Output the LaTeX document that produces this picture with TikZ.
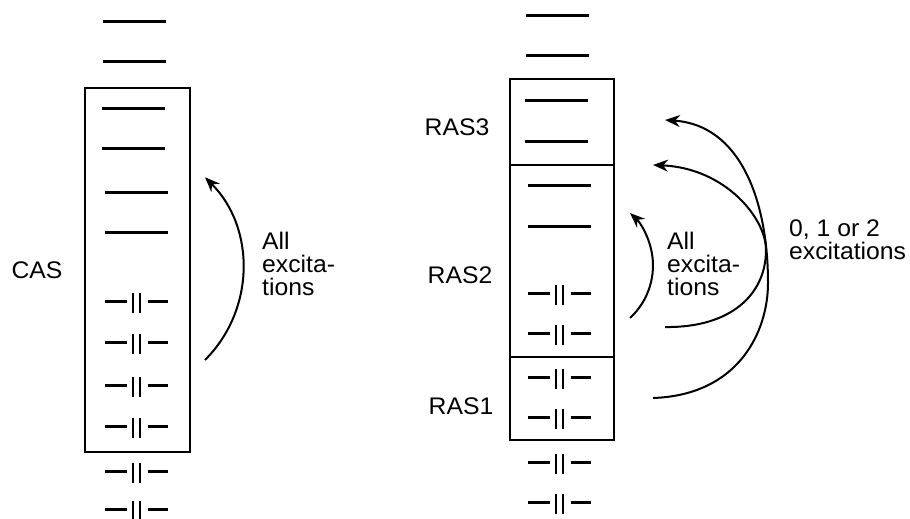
\documentclass[tikz,border=0pt]{standalone}
\usepackage{fontspec}
\setmainfont{Liberation Sans}[FakeStretch=1.03]
\usetikzlibrary{arrows.meta}
\tikzset{
  lev/.style={line width=3pt},
  bar/.style={line width=2.6pt},
  boxline/.style={line width=2.3pt},
  arr/.style={line width=2pt,-{Stealth[length=15pt,width=12pt,inset=5pt]}},
  lbl/.style={inner sep=0pt,font=\fontsize{24}{23}\selectfont},
  txt/.style={lbl,align=left,anchor=north west},
  emptylev/.pic={\draw[lev] (-31.5,0) -- (31.5,0);},
  dblocc/.pic={\draw[lev] (-31.5,0) -- (-10,0) (11,0) -- (31.5,0);
               \draw[bar] (-3.5,-8) -- (-3.5,12) (3.5,-8) -- (3.5,12);}
}
\begin{document}
\begin{tikzpicture}[x=1pt,y=-1pt]
\useasboundingbox (0,0) rectangle (910,519);
% ---------- left: CAS ----------
\draw[boxline] (85,88) rectangle (190,452);
\pic at (134.5,22) {emptylev};
\pic at (134.5,62) {emptylev};
\pic at (133,108) {emptylev};
\pic at (133,148) {emptylev};
\pic at (136,192) {emptylev};
\pic at (136,232) {emptylev};
\foreach \y in {301,342,385,426,471,509} \pic at (136.5,\y) {dblocc};
\node[lbl] (cas) at (37,270) {CAS};
\coordinate (cs) at (205,360);
\draw[arr] (cs) arc[start angle=45,end angle=-45,radius=129.2];
\node[txt] (allL) at (262,232) {All\\excita-\\tions};
% ---------- right: RAS ----------
\draw[boxline] (510,79) rectangle (614,440);
\draw[boxline] (510,165) -- (614,165);
\draw[boxline] (510,357) -- (614,357);
\pic at (557.5,16) {emptylev};
\pic at (557.5,56) {emptylev};
\pic at (556,100) {emptylev};
\pic at (556,141) {emptylev};
\pic at (559,185) {emptylev};
\pic at (559,226) {emptylev};
\foreach \y in {293,333,377,417,462,502} \pic at (559.5,\y) {dblocc};
\node[lbl] (ras3) at (457,127) {RAS3};
\node[lbl] (ras2) at (460,275) {RAS2};
\node[lbl] (ras1) at (461,406) {RAS1};
\coordinate (rs1) at (630,318);
\draw[arr] (rs1) arc[start angle=47.3,end angle=-47.3,radius=71.4];
\coordinate (rs2) at (665,327);
\coordinate (re2) at (653,165);
\draw[arr] (rs2) .. controls (730,328) and (766,295) .. (766,250)
                 .. controls (766,218) and (725,168) .. (re2);
\coordinate (rs3) at (653,398);
\coordinate (re3) at (665,120);
\draw[arr] (rs3) .. controls (740,395) and (768,330) .. (768,283)
                 .. controls (768,200) and (740,125) .. (re3);
\node[txt] (allR) at (667,232) {All\\excita-\\tions};
\node[txt] (exc) at (789,220) {0, 1 or 2\\excitations};
\end{tikzpicture}
\end{document}
